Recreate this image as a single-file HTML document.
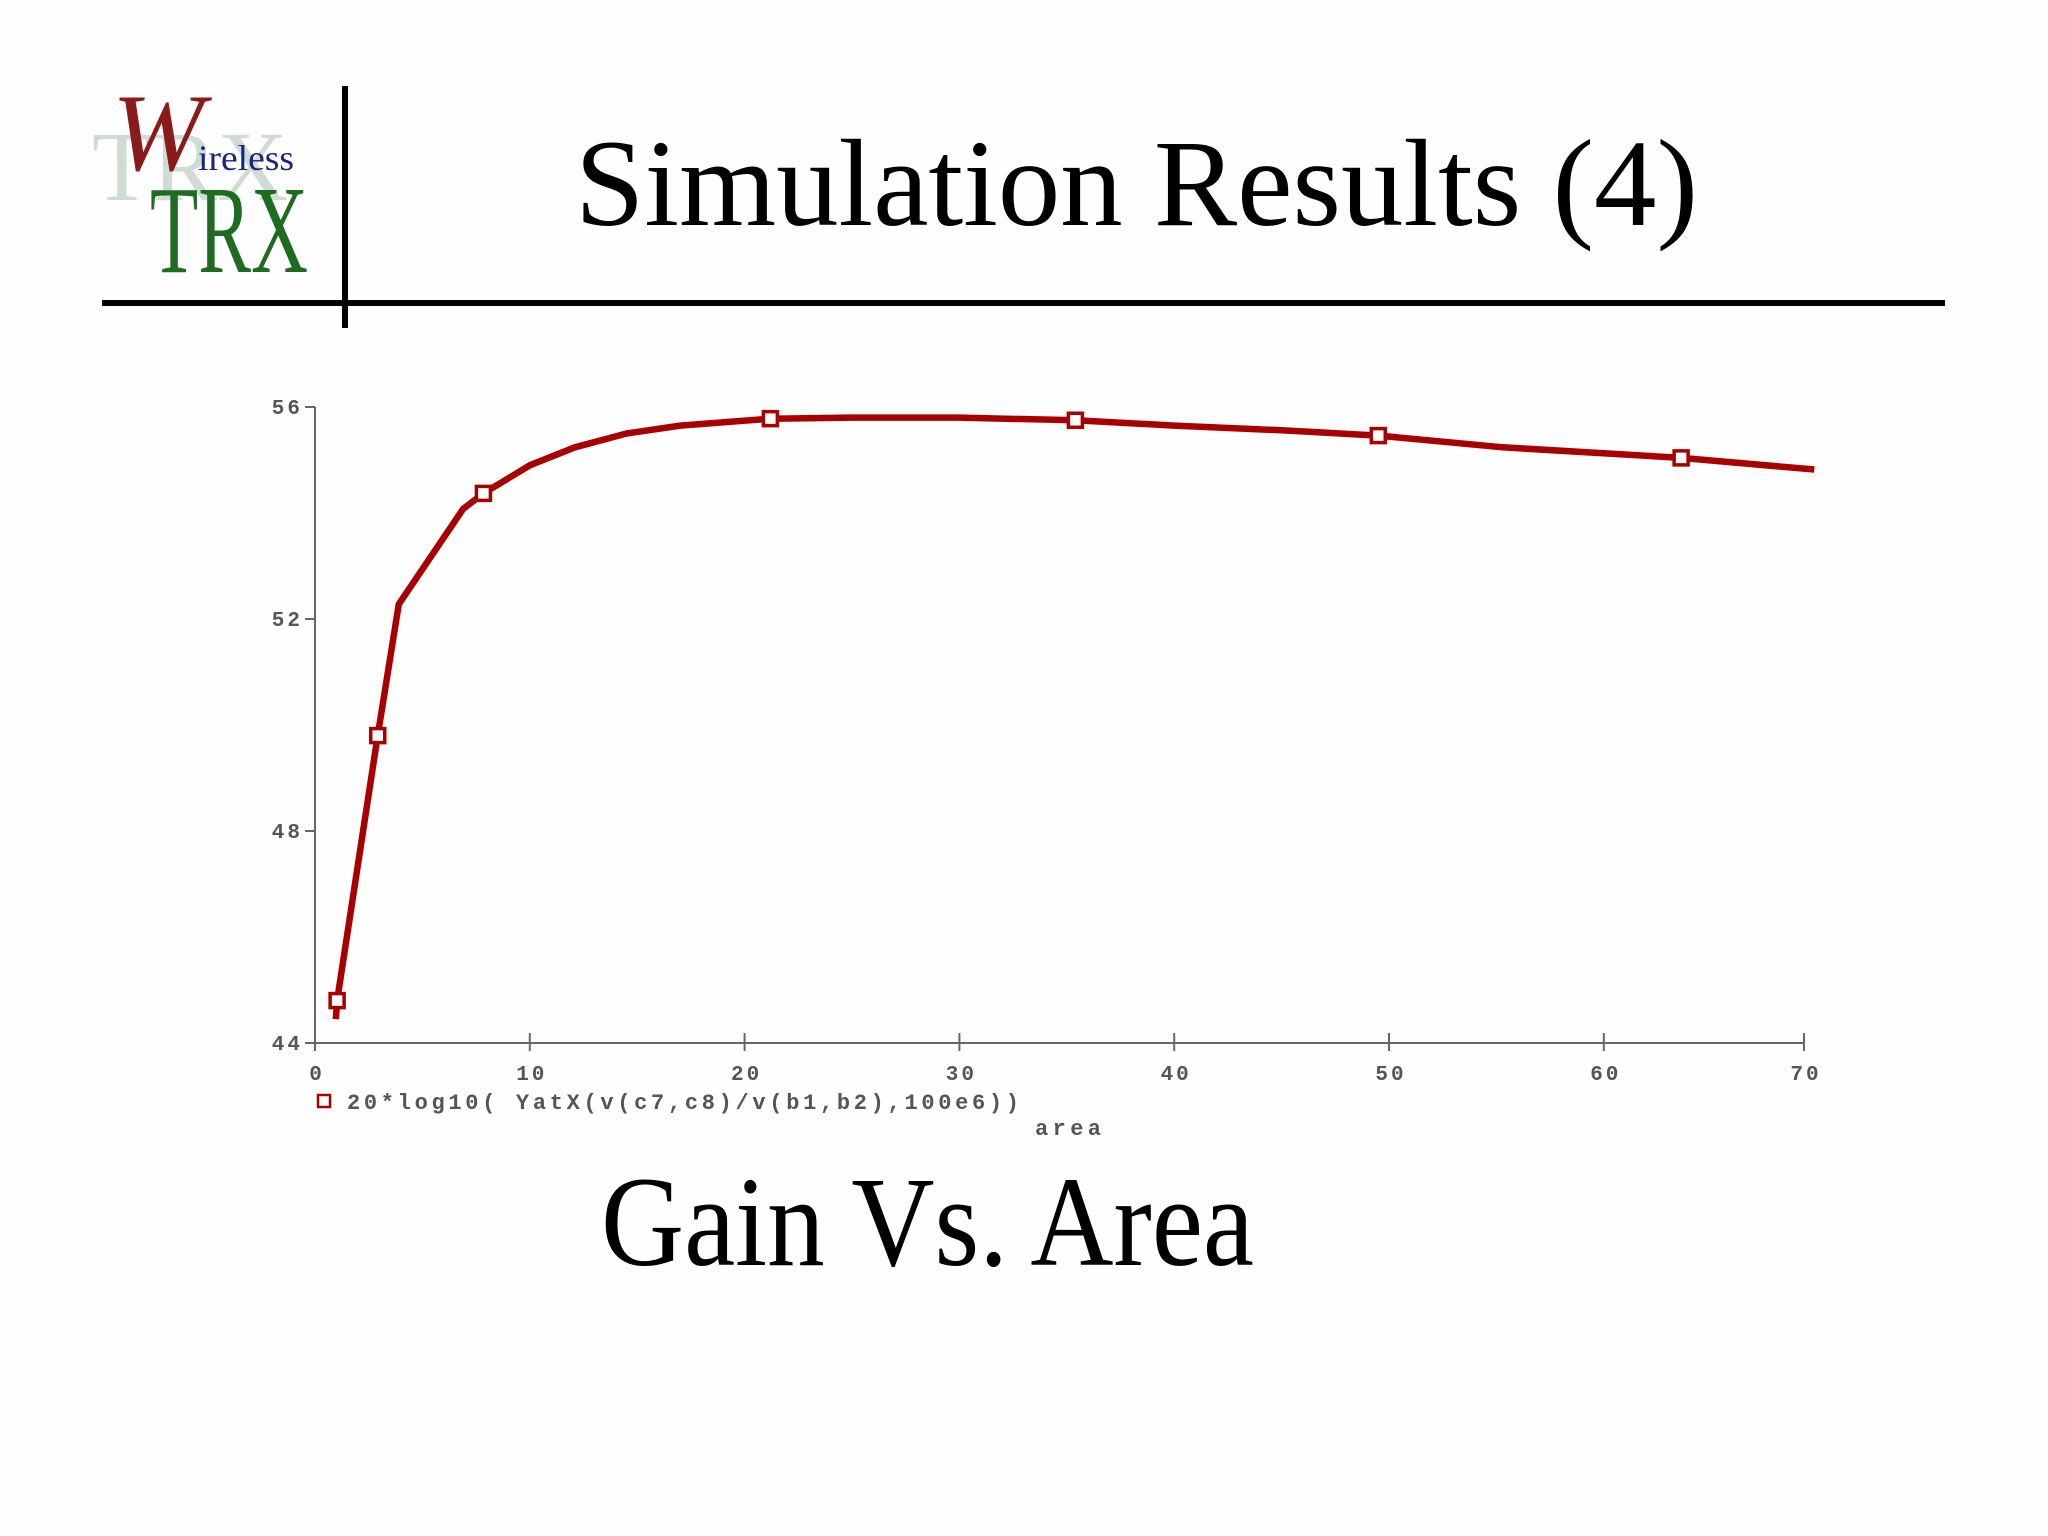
<!DOCTYPE html>
<html><head><meta charset="utf-8"><style>
html,body{margin:0;padding:0;background:#fefefe;}
svg{display:block;}
</style></head><body>
<svg width="2048" height="1536" viewBox="0 0 2048 1536" xmlns="http://www.w3.org/2000/svg">
<rect width="2048" height="1536" fill="#fefefe"/>
<g>
<text x="92" y="200" font-family="Liberation Serif, serif" font-size="100" fill="#cfdcd2" textLength="196" lengthAdjust="spacingAndGlyphs">TRX</text>
<text x="112" y="170" font-family="Liberation Serif, serif" font-style="italic" font-size="110" fill="#8b1a1a">W</text>
<text x="198" y="170" font-family="Liberation Serif, serif" font-size="36" fill="#1a237e" textLength="96" lengthAdjust="spacingAndGlyphs">ireless</text>
<text x="150" y="272" font-family="Liberation Serif, serif" font-size="125" fill="#1e6b22" textLength="158" lengthAdjust="spacingAndGlyphs">TRX</text>
</g>
<rect x="102" y="300" width="1843" height="6" fill="#000"/>
<rect x="342" y="86" width="6" height="242" fill="#000"/>
<text x="575" y="225" font-family="Liberation Serif, serif" font-size="124" fill="#000" textLength="1123" lengthAdjust="spacingAndGlyphs">Simulation Results (4)</text>
<text x="601" y="1265" font-family="Liberation Serif, serif" font-size="128" fill="#000" textLength="653" lengthAdjust="spacingAndGlyphs">Gain Vs. Area</text>
<g id="chart"></g>
</svg>
<script>
const xVals = [0.97, 1.03, 2.92, 3.9, 6.9, 7.84, 10, 12.1, 14.5, 17, 21.2, 24.9, 30, 35.4, 40, 45, 49.5, 55.3, 63.6, 69.8];
const yVals = [44.45, 44.8, 49.8, 52.28, 54.08, 54.37, 54.9, 55.24, 55.5, 55.65, 55.78, 55.8, 55.8, 55.75, 55.65, 55.56, 55.46, 55.24, 55.04, 54.82];
const markerIdx = [1, 2, 5, 10, 13, 16, 18];
const xTicks = [0, 10, 20, 30, 40, 50, 60, 70];
const yTicks = [44, 48, 52, 56];

const NS = 'http://www.w3.org/2000/svg';
const g = document.getElementById('chart');
const X0 = 315, XS = 21.48, AXEND = 1804;
const sx = v => X0 + v * XS;
const sy = v => 1043 - (v - 44) * 53;
function mk(tag, attrs, parent) {
  const e = document.createElementNS(NS, tag);
  for (const k in attrs) e.setAttribute(k, attrs[k]);
  (parent || g).appendChild(e);
  return e;
}
const mono = 'Liberation Mono, DejaVu Sans Mono, monospace';
let e;
e = mk('line', {x1: X0, y1: sy(56), x2: X0, y2: sy(44), stroke: '#666', 'stroke-width': 2});


e = mk('line', {x1: X0, y1: sy(44), x2: AXEND, y2: sy(44), stroke: '#666', 'stroke-width': 2});


yTicks.forEach(t => {
  e = mk('line', {x1: X0 - 10, y1: sy(t), x2: X0, y2: sy(t), stroke: '#666', 'stroke-width': 2});
  
  
  e = mk('text', {x: X0 - 12, y: sy(t) + 7, 'text-anchor': 'end', 'font-family': mono, 'font-size': 21, 'font-weight': 'bold', fill: '#555', 'letter-spacing': 3});
  e.textContent = t;
  
  
});
xTicks.forEach(t => {
  const px = Math.min(sx(t), AXEND);
  e = mk('line', {x1: px, y1: sy(44) - 10, x2: px, y2: sy(44) + 8, stroke: '#666', 'stroke-width': 2});
  
  
  e = mk('text', {x: px + 2, y: 1080, 'text-anchor': 'middle', 'font-family': mono, 'font-size': 21, 'font-weight': 'bold', fill: '#555', 'letter-spacing': 3});
  e.textContent = t;
  
  
});
const pts = xVals.map((x, i) => sx(x).toFixed(1) + ',' + sy(yVals[i]).toFixed(1)).join(' ');
e = mk('polyline', {points: pts, fill: 'none', stroke: '#a80000', 'stroke-width': 6.5, 'stroke-linejoin': 'round'});


markerIdx.forEach(i => {
  e = mk('rect', {x: sx(xVals[i]) - 7, y: sy(yVals[i]) - 7, width: 14, height: 14, fill: '#fff', stroke: '#a80000', 'stroke-width': 3.5});
  
  
});
e = mk('rect', {x: 318, y: 1095, width: 12, height: 12, fill: '#fff', stroke: '#a80000', 'stroke-width': 2.5});


e = mk('text', {x: 347, y: 1109, 'font-family': mono, 'font-size': 22, 'font-weight': 'bold', fill: '#555', textLength: 672, lengthAdjust: 'spacing'});
e.textContent = '20*log10( YatX(v(c7,c8)/v(b1,b2),100e6))';


e = mk('text', {x: 1035, y: 1135, 'font-family': mono, 'font-size': 22, 'font-weight': 'bold', fill: '#555', textLength: 66, lengthAdjust: 'spacing'});
e.textContent = 'area';


</script>
</body></html>
